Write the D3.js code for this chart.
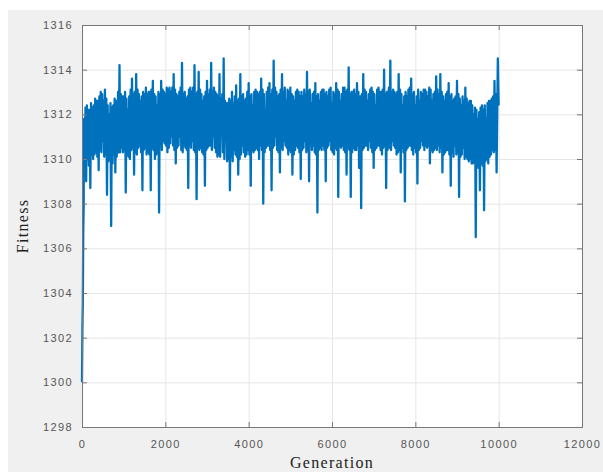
<!DOCTYPE html>
<html>
<head>
<meta charset="utf-8">
<script src="https://cdn.jsdelivr.net/npm/d3@7"></script>
<style>
  body { margin: 0; background: #fff; }
</style>
</head>
<body>
<div id="stage"></div>
<script>
// Generation (x) values of the main readings
const generations = [
    0, 10, 20, 30, 40,
    50, 100, 150, 200, 250, 300, 350, 400, 450, 500,
    550, 600, 650, 700, 750, 800, 850, 900, 950, 1000,
    1050, 1100, 1150, 1200, 1250, 1300, 1350, 1400, 1450, 1500,
    1550, 1600, 1650, 1700, 1750, 1800, 1850, 1900, 1950, 2000,
    2050, 2100, 2150, 2200, 2250, 2300, 2350, 2400, 2450, 2500,
    2550, 2600, 2650, 2700, 2750, 2800, 2850, 2900, 2950, 3000,
    3050, 3100, 3150, 3200, 3250, 3300, 3350, 3400, 3450, 3500,
    3550, 3600, 3650, 3700, 3750, 3800, 3850, 3900, 3950, 4000,
    4050, 4100, 4150, 4200, 4250, 4300, 4350, 4400, 4450, 4500,
    4550, 4600, 4650, 4700, 4750, 4800, 4850, 4900, 4950, 5000,
    5050, 5100, 5150, 5200, 5250, 5300, 5350, 5400, 5450, 5500,
    5550, 5600, 5650, 5700, 5750, 5800, 5850, 5900, 5950, 6000,
    6050, 6100, 6150, 6200, 6250, 6300, 6350, 6400, 6450, 6500,
    6550, 6600, 6650, 6700, 6750, 6800, 6850, 6900, 6950, 7000,
    7050, 7100, 7150, 7200, 7250, 7300, 7350, 7400, 7450, 7500,
    7550, 7600, 7650, 7700, 7750, 7800, 7850, 7900, 7950, 8000,
    8050, 8100, 8150, 8200, 8250, 8300, 8350, 8400, 8450, 8500,
    8550, 8600, 8650, 8700, 8750, 8800, 8850, 8900, 8950, 9000,
    9050, 9100, 9150, 9200, 9250, 9300, 9350, 9400, 9450, 9500,
    9550, 9600, 9650, 9700, 9750, 9800, 9850, 9900, 9950,
    9980, 10000
];

// Fitness at those generations (the peaks and dips of the band)
const fitness = [
    1300.0, 1302.4, 1303.6, 1306.8, 1307.9,
    1311.8, 1309.0, 1312.2, 1308.7, 1312.3, 1310.2, 1312.6, 1309.5, 1313.0, 1310.8,
    1313.1, 1308.4, 1312.0, 1307.0, 1312.4, 1309.4, 1311.6, 1314.2, 1310.5, 1312.8,
    1308.5, 1312.2, 1310.0, 1313.6, 1309.3, 1313.8, 1310.5, 1312.6, 1308.6, 1312.9,
    1310.2, 1313.0, 1308.6, 1313.5, 1310.0, 1312.4, 1307.6, 1313.5, 1310.8, 1312.9,
    1310.3, 1313.2, 1311.0, 1313.8, 1309.8, 1312.8, 1311.0, 1314.3, 1310.6, 1312.7,
    1308.7, 1313.2, 1310.8, 1314.2, 1308.2, 1313.9, 1310.5, 1312.6, 1308.8, 1313.5,
    1310.6, 1314.3, 1311.0, 1313.0, 1310.1, 1313.8, 1311.2, 1314.5, 1310.8, 1312.5,
    1308.6, 1313.0, 1310.4, 1313.3, 1309.3, 1313.8, 1310.6, 1312.6, 1310.2, 1313.4,
    1308.8, 1312.4, 1310.4, 1313.0, 1310.0, 1313.6, 1308.0, 1312.2, 1310.6, 1313.4,
    1308.6, 1314.4, 1311.0, 1312.8, 1309.4, 1313.8, 1310.8, 1312.6, 1310.2, 1313.2,
    1309.3, 1312.6, 1310.6, 1313.0, 1309.1, 1312.8, 1310.8, 1313.9, 1309.0, 1312.5,
    1310.6, 1313.4, 1307.6, 1312.6, 1310.4, 1313.1, 1309.0, 1312.8, 1310.8, 1312.5,
    1310.2, 1313.4, 1308.3, 1312.6, 1310.6, 1313.2, 1309.3, 1314.1, 1308.3, 1313.0,
    1310.4, 1313.4, 1309.6, 1307.8, 1313.8, 1310.6, 1312.6, 1310.8, 1313.2, 1309.6,
    1312.4, 1310.6, 1313.0, 1310.2, 1314.0, 1308.7, 1312.6, 1314.4, 1310.8, 1313.0,
    1310.2, 1313.8, 1309.4, 1312.4, 1308.1, 1312.8, 1310.6, 1313.6, 1310.2, 1312.4,
    1308.9, 1312.6, 1310.8, 1313.1, 1310.6, 1312.8, 1309.8, 1312.6, 1310.4, 1313.7,
    1310.6, 1313.8, 1309.4, 1312.6, 1310.4, 1313.4, 1308.8, 1312.6, 1310.6, 1313.5,
    1308.3, 1312.4, 1310.5, 1313.2, 1310.0, 1312.6, 1309.8, 1312.0, 1306.5, 1311.8,
    1308.6, 1312.4, 1307.7, 1311.8, 1309.8, 1312.6, 1310.4, 1313.5, 1309.4,
    1314.5, 1312.4
];

// Two readings inside the dense core between each pair of main readings (gen 50 .. 9950)
const between = [
    [1309.8, 1312.3], [1312.4, 1310.0], [1309.7, 1312.2], [1312.5, 1310.2], [1310.0, 1312.4],
    [1312.7, 1310.3], [1310.1, 1312.6], [1312.8, 1310.4], [1310.3, 1312.9], [1312.6, 1310.1],
    [1310.2, 1312.7], [1312.4, 1309.9], [1310.0, 1312.5], [1312.3, 1309.8], [1310.2, 1312.7],
    [1312.6, 1310.1], [1313.0, 1310.3], [1310.3, 1312.9], [1312.8, 1310.3], [1310.4, 1313.0],
    [1312.7, 1310.2], [1310.1, 1312.8], [1313.1, 1310.4], [1310.5, 1312.9], [1313.0, 1310.3],
    [1310.2, 1313.1], [1312.9, 1310.6], [1310.3, 1312.8], [1313.0, 1310.4], [1310.5, 1313.2],
    [1312.9, 1310.3], [1310.2, 1313.0], [1313.1, 1310.5], [1310.4, 1312.9], [1312.8, 1310.2],
    [1310.3, 1313.0], [1312.9, 1310.6], [1310.4, 1313.1], [1313.0, 1310.7], [1310.6, 1313.2],
    [1313.1, 1310.5], [1310.7, 1313.0], [1313.2, 1310.6], [1310.4, 1313.1], [1312.9, 1310.5],
    [1310.6, 1313.0], [1313.2, 1310.4], [1310.3, 1312.9], [1313.0, 1310.5], [1310.4, 1312.8],
    [1313.1, 1310.6], [1310.5, 1313.0], [1313.2, 1310.4], [1310.3, 1312.9], [1313.0, 1310.5],
    [1310.4, 1313.1], [1312.9, 1310.3], [1310.2, 1312.8], [1313.0, 1310.4], [1310.5, 1312.9],
    [1313.1, 1310.6], [1310.4, 1313.0], [1313.2, 1310.5], [1310.3, 1312.9], [1312.8, 1310.2],
    [1310.1, 1312.7], [1312.9, 1310.3], [1310.0, 1312.6], [1312.5, 1309.9], [1310.0, 1312.7],
    [1312.6, 1310.1], [1309.9, 1312.5], [1312.8, 1310.2], [1310.1, 1312.6], [1312.7, 1310.0],
    [1310.2, 1312.8], [1312.9, 1310.3], [1310.1, 1312.7], [1313.0, 1310.4], [1310.2, 1312.8],
    [1312.9, 1310.4], [1310.3, 1313.0], [1313.1, 1310.5], [1310.4, 1312.9], [1313.0, 1310.6],
    [1310.4, 1313.1], [1312.9, 1310.3], [1310.5, 1313.0], [1313.2, 1310.6], [1310.4, 1312.9],
    [1313.1, 1310.5], [1310.6, 1313.2], [1313.0, 1310.4], [1310.3, 1312.9], [1313.1, 1310.5],
    [1310.4, 1313.0], [1313.2, 1310.6], [1310.5, 1313.1], [1313.0, 1310.4], [1310.3, 1312.9],
    [1312.8, 1310.2], [1310.4, 1313.0], [1313.1, 1310.5], [1310.3, 1312.8], [1313.0, 1310.4],
    [1310.5, 1313.1], [1312.9, 1310.3], [1310.4, 1313.0], [1313.1, 1310.6], [1310.4, 1312.9],
    [1313.0, 1310.3], [1310.2, 1312.8], [1312.9, 1310.4], [1310.5, 1313.0], [1313.1, 1310.6],
    [1310.4, 1312.9], [1313.0, 1310.5], [1310.6, 1313.1], [1313.2, 1310.4], [1310.3, 1313.0],
    [1312.9, 1310.5], [1310.4, 1313.1], [1313.0, 1310.6], [1310.5, 1312.9], [1313.2, 1310.4],
    [1310.3, 1313.0], [1313.1, 1310.5], [1310.4, 1312.9], [1313.0, 1310.3], [1310.5, 1313.1],
    [1312.9, 1310.4], [1310.6, 1313.0], [1310.3, 1312.8], [1312.9, 1310.4], [1310.5, 1313.1],
    [1313.0, 1310.6], [1310.4, 1312.9], [1313.1, 1310.5], [1310.3, 1313.0], [1312.9, 1310.4],
    [1310.5, 1313.1], [1313.2, 1310.6], [1310.4, 1313.0], [1313.1, 1310.5], [1310.6, 1312.9],
    [1313.0, 1310.4], [1313.2, 1310.5], [1310.4, 1313.0], [1313.1, 1310.6], [1310.5, 1312.9],
    [1313.0, 1310.3], [1310.4, 1313.1], [1312.9, 1310.5], [1310.3, 1312.8], [1313.0, 1310.4],
    [1310.5, 1313.1], [1313.2, 1310.6], [1310.4, 1312.9], [1313.0, 1310.5], [1310.3, 1312.8],
    [1313.1, 1310.4], [1310.5, 1313.0], [1312.9, 1310.6], [1310.4, 1313.1], [1313.0, 1310.5],
    [1310.6, 1313.2], [1313.1, 1310.4], [1310.3, 1312.9], [1313.0, 1310.5], [1310.4, 1313.1],
    [1312.9, 1310.3], [1310.5, 1313.0], [1312.8, 1310.2], [1310.3, 1312.9], [1313.0, 1310.4],
    [1310.2, 1312.8], [1312.9, 1310.3], [1310.1, 1312.7], [1312.8, 1310.2], [1310.3, 1312.9],
    [1312.7, 1310.1], [1310.2, 1312.8], [1312.6, 1310.0], [1310.1, 1312.7], [1312.5, 1309.9],
    [1310.0, 1312.6], [1312.4, 1309.8], [1309.9, 1312.3], [1312.2, 1309.7], [1309.6, 1312.1],
    [1312.3, 1309.8], [1309.7, 1312.2], [1312.4, 1309.9], [1310.0, 1312.5], [1312.6, 1310.1],
    [1310.2, 1312.7], [1312.8, 1310.3], [1310.4, 1312.9]
];

const xTicks = [0, 2000, 4000, 6000, 8000, 10000, 12000];
const yTicks = [1298, 1300, 1302, 1304, 1306, 1308, 1310, 1312, 1314, 1316];

// merge main readings with the in-between readings into one series
const firstBetween = generations.indexOf(50);
const series = [];
generations.forEach((g, k) => {
    series.push([g, fitness[k]]);
    const pair = between[k - firstBetween];
    if (k >= firstBetween && pair) {
        const next = generations[k + 1];
        series.push([g + (next - g) / 3, pair[0]]);
        series.push([g + 2 * (next - g) / 3, pair[1]]);
    }
});

const width = 603;
const height = 472;
const margin = {top: 25, right: 21, bottom: 45, left: 82};
const plotW = width - margin.left - margin.right;
const plotH = height - margin.top - margin.bottom;

const svg = d3.select('#stage')
                .append('svg')
                .attr('width', width)
                .attr('height', height);

// grey figure background
svg.append('rect')
    .attr('x', 8)
    .attr('y', 10)
    .attr('width', width - 8)
    .attr('height', height - 10)
    .attr('fill', '#f0f0f0');

const x = d3.scaleLinear().domain([0, 12000]).range([margin.left, margin.left + plotW]);
const y = d3.scaleLinear().domain([1298, 1316]).range([margin.top + plotH, margin.top]);

// white axes box
svg.append('rect')
    .attr('x', margin.left)
    .attr('y', margin.top)
    .attr('width', plotW)
    .attr('height', plotH)
    .attr('fill', '#fff');

// grid lines
svg.append('g')
    .attr('transform', `translate(0,${margin.top + plotH})`)
    .call(d3.axisBottom(x).tickValues(xTicks).tickSize(-plotH).tickFormat(''))
    .call(g => g.select('.domain').remove())
    .call(g => g.selectAll('line').attr('stroke', '#e6e6e6'));

svg.append('g')
    .attr('transform', `translate(${margin.left},0)`)
    .call(d3.axisLeft(y).tickValues(yTicks).tickSize(-plotW).tickFormat(''))
    .call(g => g.select('.domain').remove())
    .call(g => g.selectAll('line').attr('stroke', '#e6e6e6'));

// the fitness line
const line = d3.line()
                .x(d => x(d[0]))
                .y(d => y(d[1]));

svg.append('path')
    .datum(series)
    .attr('fill', 'none')
    .attr('stroke', '#0072bd')
    .attr('stroke-width', 2.3)
    .attr('stroke-linejoin', 'round')
    .attr('d', line);

// axes with inward ticks
const axisColor = '#777';
const tickFont = g => g.selectAll('text')
    .attr('fill', '#555')
    .style('font-family', '"Liberation Sans", Arial, sans-serif')
    .style('font-size', '11px')
    .style('letter-spacing', '1.4px');

svg.append('g')
    .attr('transform', `translate(0,${margin.top + plotH})`)
    .call(d3.axisBottom(x).tickValues(xTicks).tickSize(-5).tickPadding(13).tickFormat(d3.format('d')))
    .call(g => g.selectAll('line,path').attr('stroke', axisColor))
    .call(tickFont);

svg.append('g')
    .attr('transform', `translate(0,${margin.top})`)
    .call(d3.axisTop(x).tickValues(xTicks).tickSize(-5).tickFormat(''))
    .call(g => g.selectAll('line,path').attr('stroke', axisColor));

svg.append('g')
    .attr('transform', `translate(${margin.left},0)`)
    .call(d3.axisLeft(y).tickValues(yTicks).tickSize(-5).tickPadding(9).tickFormat(d3.format('d')))
    .call(g => g.selectAll('line,path').attr('stroke', axisColor))
    .call(tickFont);

svg.append('g')
    .attr('transform', `translate(${margin.left + plotW},0)`)
    .call(d3.axisRight(y).tickValues(yTicks).tickSize(-5).tickFormat(''))
    .call(g => g.selectAll('line,path').attr('stroke', axisColor));

// axis labels
svg.append('text')
    .attr('x', margin.left + plotW / 2)
    .attr('y', 468)
    .attr('text-anchor', 'middle')
    .style('font-family', '"Liberation Serif", "Times New Roman", serif')
    .style('font-size', '16px')
    .style('letter-spacing', '1.3px')
    .attr('fill', '#222')
    .text('Generation');

svg.append('text')
    .attr('transform', `translate(28,${margin.top + plotH / 2}) rotate(-90)`)
    .attr('text-anchor', 'middle')
    .style('font-family', '"Liberation Serif", "Times New Roman", serif')
    .style('font-size', '16px')
    .style('letter-spacing', '1.3px')
    .attr('fill', '#222')
    .text('Fitness');
</script>
</body>
</html>
